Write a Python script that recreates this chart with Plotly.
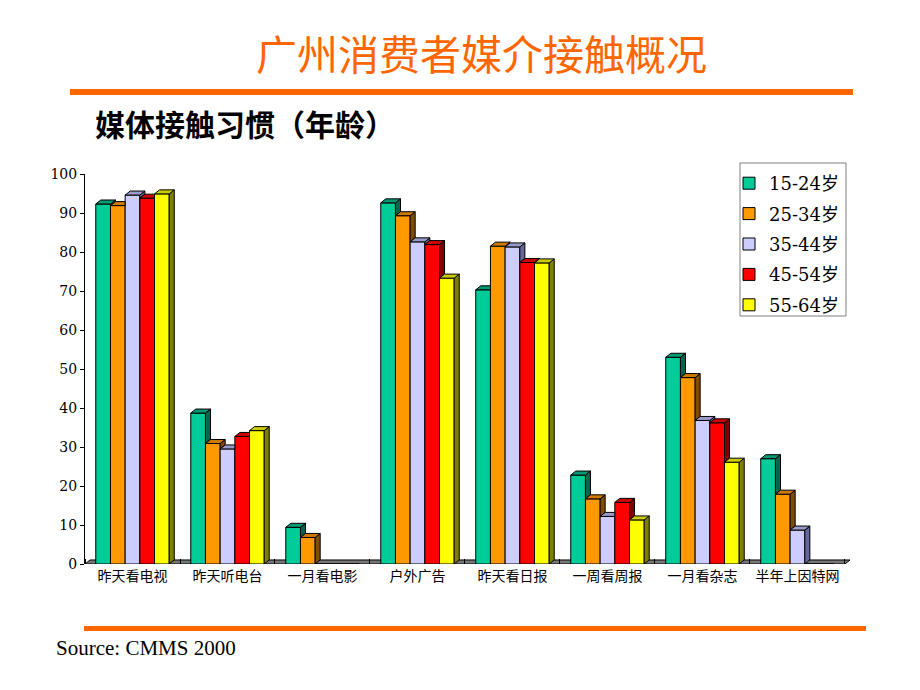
import plotly.graph_objects as go

# ---------------- data ----------------
categories = ["昨天看电视", "昨天听电台", "一月看电影", "户外广告",
              "昨天看日报", "一周看周报", "一月看杂志", "半年上因特网"]
series_names = ["15-24岁", "25-34岁", "35-44岁", "45-54岁", "55-64岁"]
age_15_24 = [92.3, 38.7, 9.4, 92.6, 70.3, 22.8, 53.0, 27.0]
age_25_34 = [91.9, 30.9, 6.8, 89.3, 81.5, 16.7, 47.8, 17.9]
age_35_44 = [94.6, 29.5, 0.0, 82.6, 81.3, 12.2, 36.8, 8.7]
age_45_54 = [93.8, 32.7, 0.0, 81.9, 77.3, 15.8, 36.2, 0.0]
age_55_64 = [94.9, 34.2, 0.0, 73.3, 77.2, 11.3, 26.1, 0.0]
y_ticks = [0, 10, 20, 30, 40, 50, 60, 70, 80, 90, 100]

values = [age_15_24, age_25_34, age_35_44, age_45_54, age_55_64]

# ---------------- style ----------------
front_colors = ["#00CC99", "#FF9900", "#CCCCFF", "#FF0000", "#FFFF00"]
top_colors = ["#009973", "#CC7A00", "#9999CC", "#CC0000", "#CCCC00"]
side_colors = ["#006650", "#7F4D00", "#666699", "#800000", "#808000"]

OFF = 8                      # page body margin
W, H = 920 - OFF, 690 - OFF
PL, PR, PT, PB = 85, 850, 174, 564   # plot area in page pixels
ML, MR, MT, MB = PL - OFF, W - (PR - OFF), PT - OFF, H - (PB - OFF)
PW, PH = PR - PL, PB - PT

n = len(series_names)
bar_w = 0.1546
group_w = bar_w * n
dx = 0.053      # 3D depth in category units
dy = 1.03       # 3D depth in value units
ncat = len(categories)


def xp(px):
    return (px - PL) / PW


def yp(py):
    return (PB - py) / PH


fig = go.Figure()

# front faces
for j in range(n):
    fig.add_trace(go.Bar(
        x=list(range(ncat)), y=values[j], name=series_names[j],
        offset=-group_w / 2 + j * bar_w, width=bar_w,
        marker=dict(color=front_colors[j], line=dict(color="black", width=1)),
        legendgroup=series_names[j],
    ))

# top and side faces (3D look), computed from the same values
for j in range(n):
    tx, ty, sx, sy = [], [], [], []
    for i in range(ncat):
        v = values[j][i]
        if v <= 0:
            continue
        xl = i - group_w / 2 + j * bar_w
        xr = xl + bar_w
        nxt = values[j + 1][i] if j + 1 < n else 0.0
        if v > nxt:
            tx += [xl, xl + dx, xr + dx, xr, xl, None]
            ty += [v, v + dy, v + dy, v, v, None]
            sx += [xr, xr + dx, xr + dx, xr, xr, None]
            sy += [nxt, nxt + dy, v + dy, v, nxt, None]
        else:
            tx += [xl, xl + dx, xr, xr, xl, None]
            ty += [v, v + dy, v + dy, v, v, None]
    if sx:
        fig.add_trace(go.Scatter(
            x=sx, y=sy, mode="lines", fill="toself", fillcolor=side_colors[j],
            line=dict(color="black", width=1), showlegend=False,
            hoverinfo="skip", legendgroup=series_names[j]))
    fig.add_trace(go.Scatter(
        x=tx, y=ty, mode="lines", fill="toself", fillcolor=top_colors[j],
        line=dict(color="black", width=1), showlegend=False,
        hoverinfo="skip", legendgroup=series_names[j]))

orange = "#FF6600"
shapes = [
    # floor
    dict(type="path", xref="x", yref="y", layer="below",
         path=f"M -0.5,0 L {-0.5 + dx},{dy} L {ncat - 0.5 + dx},{dy} L {ncat - 0.5},0 Z",
         fillcolor="#777777", line=dict(color="black", width=1)),
    # legend box
    dict(type="rect", xref="paper", yref="paper", layer="below",
         x0=xp(740), x1=xp(846), y0=yp(316), y1=yp(163),
         fillcolor="white", line=dict(color="#808080", width=1)),
    # orange rules
    dict(type="line", xref="paper", yref="paper", x0=xp(70), x1=xp(853),
         y0=yp(92), y1=yp(92), line=dict(color=orange, width=6)),
    dict(type="line", xref="paper", yref="paper", x0=xp(84), x1=xp(866),
         y0=yp(628.5), y1=yp(628.5), line=dict(color=orange, width=5)),
]

annotations = [
    dict(text="广州消费者媒介接触概况", xref="paper", yref="paper",
         x=xp(481), y=yp(52), xanchor="center", yanchor="middle", showarrow=False,
         font=dict(family="Noto Sans CJK SC", size=41, color=orange)),
    dict(text="<b>媒体接触习惯（年龄）</b>", xref="paper", yref="paper",
         x=xp(93), y=yp(122.5), xanchor="left", yanchor="middle", showarrow=False,
         font=dict(family="Noto Sans CJK SC", size=30, color="black")),
    dict(text="Source: CMMS 2000", xref="paper", yref="paper",
         x=xp(54), y=yp(648), xanchor="left", yanchor="middle", showarrow=False,
         font=dict(family="Liberation Serif", size=21, color="black")),
]

fig.update_layout(
    width=W, height=H, autosize=False,
    margin=dict(l=ML, r=MR, t=MT, b=MB, pad=0),
    paper_bgcolor="white", plot_bgcolor="white",
    barmode="overlay",
    shapes=shapes, annotations=annotations,
    showlegend=True,
    legend=dict(x=xp(729), y=yp(165), xanchor="left", yanchor="top",
                bgcolor="rgba(0,0,0,0)", borderwidth=0, tracegroupgap=4,
                font=dict(family="DejaVu Serif, Noto Sans CJK SC", size=18, color="black")),
    xaxis=dict(range=[-0.5, ncat - 0.5 + dx], tickmode="array",
               tickvals=list(range(ncat)), ticktext=categories, ticks="",
               showline=False, showgrid=False, zeroline=False,
               ticklabelstandoff=2,
               tickfont=dict(family="Noto Sans CJK SC", size=14, color="black"),
               minor=dict(tickmode="array", tickvals=[k - 0.5 for k in range(ncat + 1)],
                          ticks="inside", ticklen=5, tickcolor="black", showgrid=False)),
    yaxis=dict(range=[0, 100], tickmode="array", tickvals=y_ticks,
               ticks="outside", ticklen=4, tickcolor="black",
               showline=True, linecolor="black", linewidth=1,
               showgrid=False, zeroline=False,
               tickfont=dict(family="DejaVu Serif", size=14, color="black")),
)

fig.write_html("out.html")
